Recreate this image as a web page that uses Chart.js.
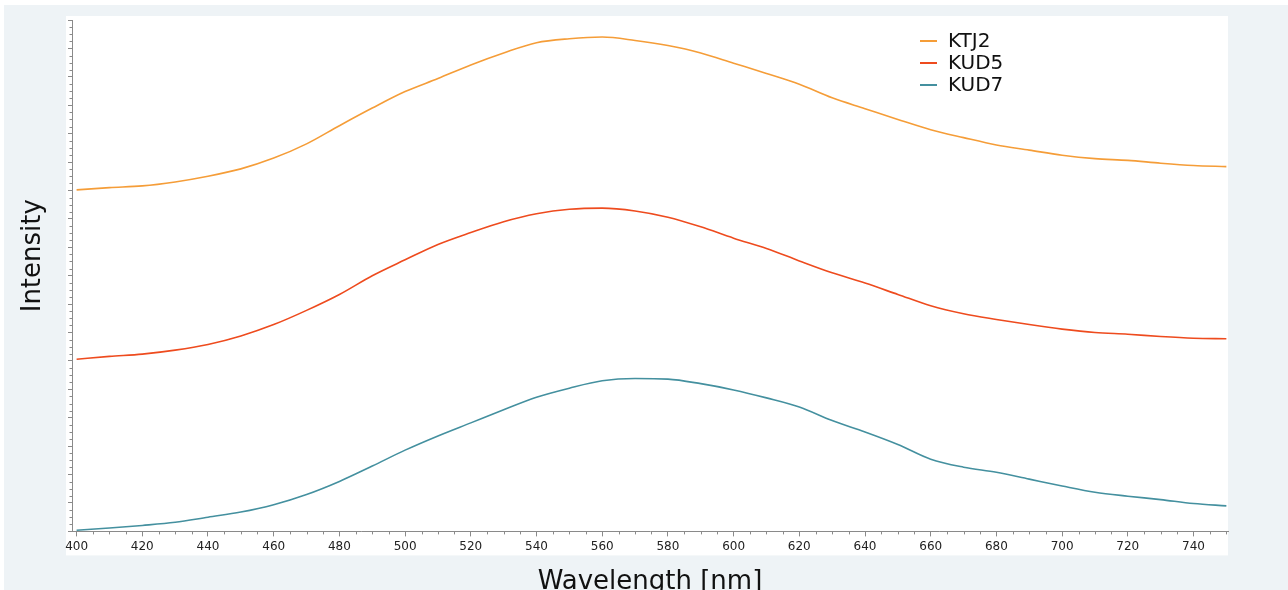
<!DOCTYPE html>
<html>
<head>
<meta charset="utf-8">
<script src="https://cdn.jsdelivr.net/npm/chart.js@4"></script>
<style>
  html, body { margin: 0; padding: 0; background: #fff; overflow: hidden; }
  #wrap { width: 1288px; height: 590px; overflow: hidden; }
</style>
</head>
<body>
<div id="wrap"><canvas id="spec" width="1288" height="610"></canvas></div>
<script>
// wavelength grid [nm]
const wavelengths = [400, 410, 420, 430, 440, 450, 460, 470, 480, 490, 500, 510, 520, 530, 540, 550, 560, 570,
    580, 590, 600, 610, 620, 630, 640, 650, 660, 670, 680, 690, 700, 710, 720, 730, 740, 750];

// x tick labels
const xTickLabels = [400, 420, 440, 460, 480, 500, 520, 540, 560, 580, 600, 620, 640, 660, 680, 700, 720, 740];

// intensities (arbitrary units, curves are offset)
const ktj2 = [60.1, 60.5, 60.8, 61.5, 62.5, 63.8, 65.7, 68.2, 71.4, 74.5, 77.4, 79.7, 82.1, 84.2, 86.0, 86.7, 87.0, 86.4,
    85.5, 84.2, 82.4, 80.6, 78.7, 76.3, 74.4, 72.5, 70.7, 69.3, 68.0, 67.1, 66.2, 65.6, 65.3, 64.8, 64.4, 64.2];
const kud5 = [30.3, 30.8, 31.2, 31.9, 32.9, 34.4, 36.4, 38.9, 41.7, 45.0, 47.8, 50.5, 52.6, 54.5, 55.9, 56.7, 56.9, 56.4,
    55.3, 53.6, 51.6, 49.8, 47.6, 45.5, 43.7, 41.7, 39.7, 38.3, 37.3, 36.4, 35.6, 35.0, 34.7, 34.3, 34.0, 33.9];
const kud7 = [0.2, 0.6, 1.05, 1.6, 2.5, 3.4, 4.7, 6.5, 8.8, 11.5, 14.3, 16.8, 19.1, 21.4, 23.6, 25.2, 26.5, 26.9,
    26.8, 26.0, 24.9, 23.5, 21.9, 19.5, 17.5, 15.3, 12.7, 11.3, 10.4, 9.2, 8.0, 6.9, 6.2, 5.6, 4.9, 4.5];

const seriesNames = ["KTJ2", "KUD5", "KUD7"];
const seriesColors = ["#f59d38", "#ee4b1e", "#44909f"];
const seriesValues = [ktj2, kud5, kud7];

const textFont = "'DejaVu Sans', sans-serif";

// grey frame + white panel behind the plot
const panelBg = {
    id: "panelBg",
    beforeDraw(chart) {
        const { ctx, chartArea: a } = chart;
        ctx.save();
        ctx.fillStyle = "#fff";
        ctx.fillRect(0, 0, chart.width, chart.height);
        ctx.fillStyle = "#eef3f6";
        ctx.fillRect(4, 5, chart.width - 4, chart.height - 5);
        ctx.fillStyle = "#fff";
        ctx.fillRect(a.left - 6, a.top - 4, a.right - a.left + 6, a.bottom - a.top + 28);
        ctx.restore();
    }
};

// minor tick marks on both axes + y axis title (sits a bit above centre)
const axisExtras = {
    id: "axisExtras",
    afterDraw(chart) {
        const { ctx, scales, chartArea: a } = chart;
        ctx.save();
        ctx.strokeStyle = "#8a8a8a";
        ctx.lineWidth = 1;
        const x = scales.x;
        for (let v = 400; v <= x.max; v += 5) {
            if (v % 20 === 0) continue;
            const px = Math.round(x.getPixelForValue(v)) + 0.5;
            ctx.beginPath();
            ctx.moveTo(px, x.top);
            ctx.lineTo(px, x.top + 3);
            ctx.stroke();
        }
        const y = scales.y;
        for (let v = 0; v <= y.max; v += 1.25) {
            if (v % 5 === 0) continue;
            const py = Math.round(y.getPixelForValue(v)) + 0.5;
            ctx.beginPath();
            ctx.moveTo(y.right - 2.5, py);
            ctx.lineTo(y.right, py);
            ctx.stroke();
        }
        ctx.translate(33, (a.top + a.bottom) / 2 - 20);
        ctx.rotate(-Math.PI / 2);
        ctx.font = "26px " + textFont;
        ctx.fillStyle = "#111";
        ctx.textAlign = "center";
        ctx.textBaseline = "middle";
        ctx.fillText("Intensity", 0, 0);
        ctx.restore();
    }
};

// stacked legend inside the plot, top right
const insideLegend = {
    id: "insideLegend",
    afterDraw(chart) {
        const { ctx, chartArea: a } = chart;
        ctx.save();
        ctx.font = "20px " + textFont;
        ctx.textBaseline = "middle";
        chart.data.datasets.forEach((ds, i) => {
            const yy = a.top + 21 + i * 22;
            const xx = a.right - 308;
            ctx.strokeStyle = ds.borderColor;
            ctx.lineWidth = 2;
            ctx.beginPath();
            ctx.moveTo(xx, yy);
            ctx.lineTo(xx + 17, yy);
            ctx.stroke();
            ctx.fillStyle = "#111";
            ctx.fillText(ds.label, xx + 28, yy + 1);
        });
        ctx.restore();
    }
};

new Chart(document.getElementById("spec"), {
    type: "line",
    data: {
        labels: wavelengths,
        datasets: seriesNames.map((name, i) => ({
            label: name,
            data: seriesValues[i],
            borderColor: seriesColors[i],
            borderWidth: 1.6,
            pointRadius: 0,
            cubicInterpolationMode: "monotone",
            fill: false
        }))
    },
    options: {
        responsive: false,
        animation: false,
        layout: { padding: { top: 20, right: 60, left: 0, bottom: 12 } },
        plugins: { legend: { display: false }, tooltip: { enabled: false } },
        scales: {
            x: {
                type: "linear",
                min: 398.6,
                max: 750.5,
                border: { color: "#8a8a8a", width: 1 },
                grid: { drawOnChartArea: false, drawTicks: true, tickLength: 5, tickColor: "#8a8a8a" },
                ticks: {
                    padding: 3,
                    color: "#222",
                    font: { family: textFont, size: 12 }
                },
                afterBuildTicks: s => { s.ticks = xTickLabels.map(v => ({ value: v })); },
                title: {
                    display: true,
                    text: "Wavelength [nm]",
                    color: "#111",
                    font: { family: textFont, size: 26 },
                    padding: { top: 10, bottom: 0 }
                }
            },
            y: {
                min: 0,
                max: 90,
                border: { color: "#8a8a8a", width: 1 },
                grid: { drawOnChartArea: false, drawTicks: true, tickLength: 4, tickColor: "#8a8a8a" },
                ticks: { stepSize: 5, display: false },
                afterFit: s => { s.width = 72; }
            }
        }
    },
    plugins: [panelBg, axisExtras, insideLegend]
});
</script>
</body>
</html>
